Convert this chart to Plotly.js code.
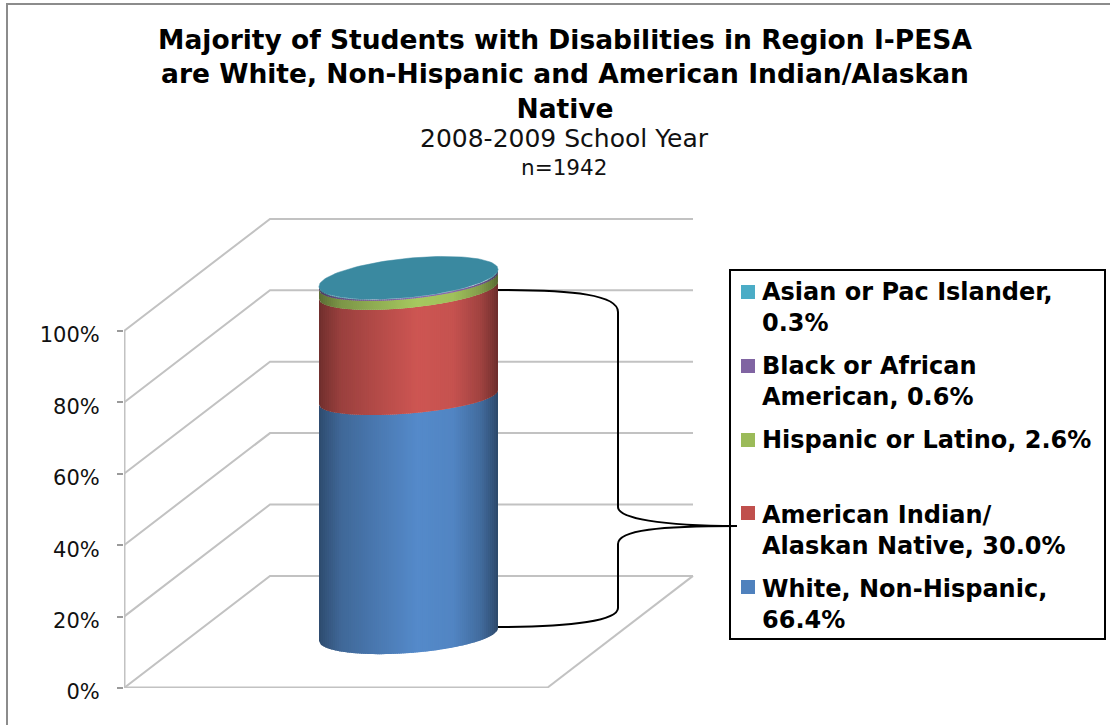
<!DOCTYPE html>
<html>
<head>
<meta charset="utf-8">
<script src="https://cdn.plot.ly/plotly-3.0.1.min.js"></script>
<style>html,body{margin:0;padding:0;background:#fff;overflow:hidden}</style>
</head>
<body>
<div id="chart" style="width:1110px;height:725px"></div>
<script>
// Race/ethnicity shares, stacked from the base of the cylinder upward
const categories = ['White, Non-Hispanic', 'American Indian/ Alaskan Native', 'Hispanic or Latino', 'Black or African American', 'Asian or Pac Islander'];
const shares = [66.4, 30.0, 2.6, 0.6, 0.3];
const seriesColors = ['#4f81bd', '#c0504d', '#9bbb59', '#8064a2', '#4bacc6'];
const axisTicks = [0, 20, 40, 60, 80, 100];
const legendLines = ['White, Non-Hispanic,<br>66.4%', 'American Indian/<br>Alaskan Native, 30.0%', 'Hispanic or Latino, 2.6%', 'Black or African<br>American, 0.6%', 'Asian or Pac Islander,<br>0.3%'];

// Page-pixel helpers for the plot area (left edge 124, baseline 688)
const W = 1110, H = 725, L = 124, BASE = 688, PXPER = 3.57;
const dx = p => p - L;
const dy = p => (BASE - p) / PXPER;
const fx = p => (p - L) / (W - L);
const fy = p => (BASE - p) / BASE;

// Depth of the 3D box and the cylinder's footprint, in axis units
const DEPTH_X = 146, DEPTH_Y = 31.4, WALL_W = 423;
const CX = dx(408.5), RX = 89.5, CYL_BASE = dy(634.5);

// Perspective: the visible sag and tilt of each band edge change with height
const PERSP_LEVEL = [0, 66.4, 96.4, 99, 99.6, 99.9];
const PERSP_SAG = [5.2, 4.5, 4.9, 5.0, 5.3, 5.5];
const PERSP_TILT = [1.8, 2.0, 2.4, 2.4, 2.4, 2.4];
function lookup(level, table) {
  for (let i = 1; i < PERSP_LEVEL.length; i++) {
    if (level <= PERSP_LEVEL[i]) {
      const f = (level - PERSP_LEVEL[i - 1]) / (PERSP_LEVEL[i] - PERSP_LEVEL[i - 1]);
      return table[i - 1] + f * (table[i] - table[i - 1]);
    }
  }
  return table[table.length - 1];
}

const traces = [];
const GRID = '#c2c2c2';
function line(x, y, w) {
  traces.push({x, y, type: 'scatter', mode: 'lines', cliponaxis: false, showlegend: false, hoverinfo: 'skip',
    line: {color: GRID, width: w}});
}
// Left wall, side-wall diagonals and back-wall grid
line([0, 0], [0, 100], 3);
axisTicks.forEach(v => {
  line([0, DEPTH_X, DEPTH_X + WALL_W], [v, v + DEPTH_Y, v + DEPTH_Y], 2);
});
// Floor front edge and right side
line([0, WALL_W], [0, 0], 3);
line([WALL_W, WALL_W + DEPTH_X], [0, DEPTH_Y], 2);

// Horizontal shading of the cylinder side
const SHADE_U = [0, 0.04, 0.12, 0.3, 0.55, 0.75, 0.9, 0.97, 1];
const SHADE_V = [0.58, 0.66, 0.8, 0.92, 1.07, 1.03, 0.84, 0.66, 0.56];
function shade(u) {
  for (let i = 1; i < SHADE_U.length; i++) {
    if (u <= SHADE_U[i]) {
      const f = (u - SHADE_U[i - 1]) / (SHADE_U[i] - SHADE_U[i - 1]);
      return SHADE_V[i - 1] + f * (SHADE_V[i] - SHADE_V[i - 1]);
    }
  }
  return SHADE_V[SHADE_V.length - 1];
}
function tint(hex, m) {
  const c = [1, 3, 5].map(i => Math.min(255, Math.round(parseInt(hex.substr(i, 2), 16) * m)));
  return `rgb(${c[0]},${c[1]},${c[2]})`;
}
const frontEdge = (x, level) => {
  const c = Math.max(-1, Math.min(1, (x - CX) / RX));
  return CYL_BASE + level + lookup(level, PERSP_TILT) * c - lookup(level, PERSP_SAG) * Math.sqrt(1 - c * c);
};

// Painted left to right; each stripe runs past its own right edge so the next one covers the seam
const STRIPES = 90;
let level = 0;
shares.forEach((share, i) => {
  const low = level, high = level + share;
  const right = CX + RX;
  for (let s = 0; s < STRIPES; s++) {
    const x0 = CX - RX + 2 * RX * s / STRIPES;
    const x1 = Math.min(right, x0 + 2 * RX / STRIPES + 1.5);
    const xm = (x0 + x1) / 2;
    const col = tint(seriesColors[i], shade((s + 0.5) / STRIPES));
    traces.push({
      x: [x0, xm, x1, x1, xm, x0, x0],
      y: [frontEdge(x0, low), frontEdge(xm, low), frontEdge(x1, low), frontEdge(x1, high), frontEdge(xm, high), frontEdge(x0, high), frontEdge(x0, low)],
      type: 'scatter', mode: 'lines', fill: 'toself', fillcolor: col, line: {width: 0},
      name: categories[i], showlegend: false, hoverinfo: 'skip', cliponaxis: false
    });
  }
  level = high;
});

// Top cap of the stack
const capX = [], capY = [];
const capSag = lookup(level, PERSP_SAG), capTilt = lookup(level, PERSP_TILT);
for (let a = 0; a <= 120; a++) {
  const t = a / 120 * 2 * Math.PI;
  capX.push(CX + RX * Math.cos(t));
  capY.push(CYL_BASE + level + capTilt * Math.cos(t) + capSag * Math.sin(t));
}
traces.push({x: capX, y: capY, type: 'scatter', mode: 'lines', fill: 'toself', fillcolor: '#3a89a0',
  line: {color: '#3a89a0', width: 0.5}, showlegend: false, hoverinfo: 'skip', cliponaxis: false});

// Page frame, legend box, swatches and the brace joining stack and legend
const P = (x, y) => `${fx(x)},${fy(y)}`;
const shapes = [
  {type: 'path', xref: 'paper', yref: 'paper', line: {color: '#8c8c8c', width: 2},
    path: `M${P(7, 725)} L${P(7, 4)} L${P(1110, 4)}`},
  {type: 'rect', xref: 'paper', yref: 'paper', x0: fx(730), x1: fx(1105), y0: fy(639), y1: fy(270),
    line: {color: '#000', width: 2}, fillcolor: '#fff'},
  {type: 'path', xref: 'paper', yref: 'paper', line: {color: '#000', width: 2},
    path: `M${P(498, 290)} C${P(575, 290)} ${P(618, 295)} ${P(618, 312)} L${P(618, 507)} C${P(618, 518)} ${P(660, 526)} ${P(737, 526)} C${P(660, 526)} ${P(618, 530)} ${P(618, 544)} L${P(618, 608)} C${P(618, 620)} ${P(575, 627)} ${P(498, 627)}`}
];
const swatchTop = [580, 506, 433, 359, 285];
const textTop = [574, 500, 425, 351, 277];
const annotations = [];
const LEG_FONT = {family: 'DejaVu Sans', size: 24, color: '#000'};
categories.forEach((c, i) => {
  shapes.push({type: 'rect', xref: 'paper', yref: 'paper', x0: fx(741), x1: fx(755), y0: fy(swatchTop[i] + 14), y1: fy(swatchTop[i]),
    line: {width: 0}, fillcolor: seriesColors[i]});
  annotations.push({xref: 'paper', yref: 'paper', x: fx(761), y: fy(textTop[i]), xanchor: 'left', yanchor: 'top', align: 'left',
    showarrow: false, borderpad: 0, text: `<b>${legendLines[i]}</b>`, font: LEG_FONT});
});
annotations.push(
  {xref: 'paper', yref: 'paper', x: fx(564), y: fy(138), xanchor: 'center', yanchor: 'middle', showarrow: false,
    text: '2008-2009 School Year', font: {family: 'DejaVu Sans', size: 25, color: '#111'}},
  {xref: 'paper', yref: 'paper', x: fx(564), y: fy(167), xanchor: 'center', yanchor: 'middle', showarrow: false,
    text: 'n=1942', font: {family: 'DejaVu Sans', size: 21.5, color: '#111'}}
);

const layout = {
  width: W, height: H,
  margin: {l: L, r: 0, t: 0, b: H - BASE, pad: 0},
  paper_bgcolor: '#fff', plot_bgcolor: '#fff', showlegend: false,
  title: {
    text: '<b>Majority of Students with Disabilities in Region I-PESA<br>are White, Non-Hispanic and American Indian/Alaskan<br>Native</b>',
    x: 565 / W, xanchor: 'center', y: 1 - 49 / H, yanchor: 'top',
    font: {family: 'DejaVu Sans', size: 26.5, color: '#000'}
  },
  xaxis: {visible: false, range: [0, W - L], fixedrange: true},
  yaxis: {
    range: [0, BASE / PXPER], fixedrange: true, showgrid: false, zeroline: false, showline: false,
    tickmode: 'array', tickvals: axisTicks, ticktext: axisTicks.map(v => v + '%'),
    ticks: 'outside', ticklen: 6, tickwidth: 2, tickcolor: '#9a9a9a', ticklabelstandoff: 13,
    ticklabelshift: 4,
    tickfont: {family: 'DejaVu Sans', size: 21, color: '#111'}
  },
  shapes, annotations
};
Plotly.newPlot('chart', traces, layout, {displayModeBar: false, responsive: false});
</script>
</body>
</html>
